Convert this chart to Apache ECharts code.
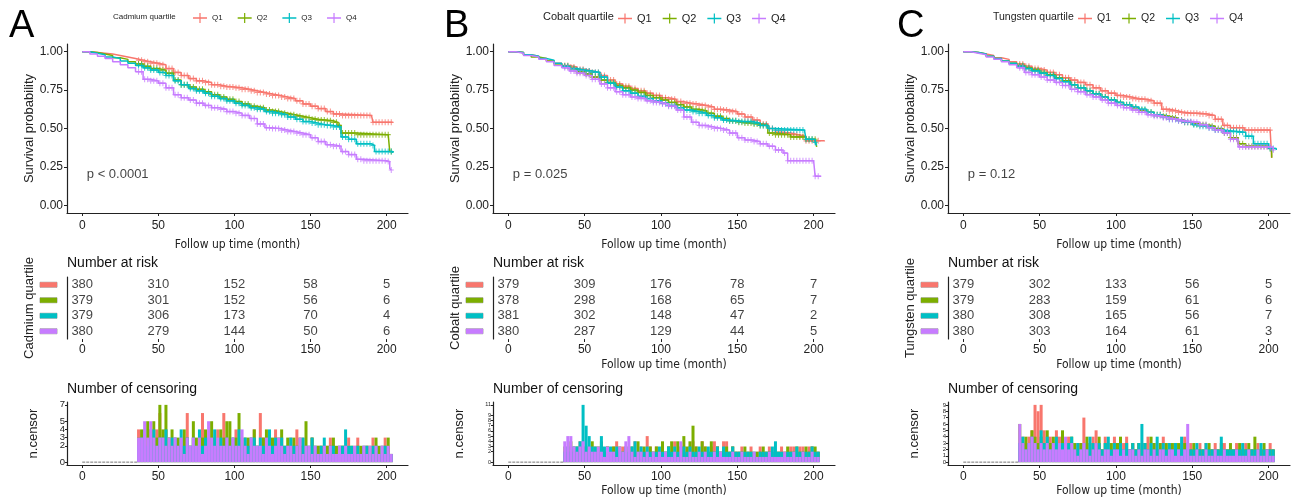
<!DOCTYPE html>
<html>
<head>
<meta charset="utf-8">
<script src="https://cdn.jsdelivr.net/npm/echarts@6/dist/echarts.min.js"></script>
<style>
html, body { margin: 0; padding: 0; background: #fff; }
#main { width: 1292px; height: 501px; }
</style>
</head>
<body>
<div id="main"></div>
<script>
// ---- data ----
const groups = ['Q1', 'Q2', 'Q3', 'Q4'];
const metals = ['Cadmium', 'Cobalt', 'Tungsten'];
const panelLetters = ['A', 'B', 'C'];
const pValues = ['p < 0.0001', 'p = 0.025', 'p = 0.12'];
const timeTicks = [0, 50, 100, 150, 200];
const probTicks = [0, 0.25, 0.5, 0.75, 1];
const riskTimes = [0, 50, 100, 150, 200];
const censorTicksA = [0, 1, 2, 3, 4, 5, 6, 7];
const censorTicksB = [0, 1, 2, 3, 4, 5, 6, 7, 8, 9, 10, 11];
const censorTicksC = [0, 1, 2, 3, 4, 5, 6, 7, 8, 9];
const censorStart = 37;   // first month with censoring, bins of 2 months
const censorStep = 2;

// survival curves [month, probability]
const cdSurvQ1 = [[0,1],[5,0.995],[10,0.99],[15,0.985],[20,0.975],[25,0.965],[30,0.955],[35,0.945],[40,0.935],[45,0.925],[50,0.915],[55,0.89],[60,0.865],[65,0.845],[70,0.825],[75,0.81],[80,0.8],[85,0.785],[90,0.775],[95,0.77],[100,0.765],[105,0.755],[110,0.745],[115,0.735],[120,0.725],[125,0.715],[130,0.705],[135,0.695],[140,0.68],[145,0.66],[150,0.645],[155,0.63],[160,0.61],[165,0.595],[170,0.585],[190,0.58],[191,0.54],[204,0.54]];
const cdSurvQ2 = [[0,1],[5,0.995],[10,0.985],[15,0.975],[20,0.96],[25,0.95],[30,0.935],[35,0.92],[40,0.905],[45,0.89],[50,0.88],[55,0.86],[60,0.815],[65,0.785],[70,0.77],[75,0.755],[80,0.74],[85,0.72],[90,0.705],[95,0.69],[100,0.675],[105,0.66],[110,0.645],[115,0.635],[120,0.62],[125,0.61],[130,0.6],[135,0.59],[140,0.58],[145,0.57],[150,0.56],[155,0.555],[160,0.55],[165,0.54],[168,0.52],[170,0.47],[180,0.46],[201,0.46],[202,0.35],[203,0.35]];
const cdSurvQ3 = [[0,1],[5,0.99],[10,0.98],[15,0.965],[20,0.955],[25,0.94],[30,0.925],[35,0.91],[40,0.895],[45,0.88],[50,0.865],[55,0.845],[60,0.81],[65,0.785],[70,0.76],[75,0.745],[80,0.73],[85,0.71],[90,0.695],[95,0.68],[100,0.665],[105,0.65],[110,0.635],[115,0.625],[120,0.61],[125,0.6],[130,0.59],[135,0.575],[140,0.56],[145,0.545],[150,0.535],[155,0.525],[160,0.52],[165,0.51],[170,0.445],[175,0.43],[180,0.4],[190,0.39],[192,0.35],[204,0.34]];
const cdSurvQ4 = [[0,1],[5,0.985],[10,0.97],[15,0.955],[20,0.935],[25,0.915],[30,0.895],[35,0.87],[40,0.82],[45,0.81],[50,0.795],[55,0.765],[60,0.72],[65,0.7],[70,0.685],[75,0.665],[80,0.65],[85,0.635],[90,0.625],[95,0.61],[100,0.6],[105,0.585],[110,0.565],[115,0.53],[120,0.505],[125,0.5],[130,0.49],[135,0.48],[140,0.47],[145,0.46],[150,0.44],[155,0.415],[160,0.395],[165,0.385],[170,0.35],[175,0.33],[180,0.3],[185,0.29],[200,0.285],[202,0.24],[203,0.23]];

const coSurvQ1 = [[0,1],[5,0.995],[10,0.98],[15,0.97],[20,0.955],[25,0.94],[30,0.925],[35,0.91],[40,0.9],[45,0.885],[50,0.875],[55,0.865],[60,0.845],[65,0.815],[70,0.79],[75,0.775],[80,0.76],[85,0.745],[90,0.73],[95,0.715],[100,0.7],[105,0.69],[110,0.675],[115,0.665],[120,0.66],[125,0.65],[130,0.64],[135,0.625],[140,0.62],[145,0.61],[150,0.595],[155,0.575],[160,0.555],[165,0.53],[170,0.5],[175,0.475],[180,0.47],[185,0.46],[190,0.45],[195,0.42],[207,0.415]];
const coSurvQ2 = [[0,1],[5,0.995],[10,0.98],[15,0.965],[20,0.955],[25,0.94],[30,0.92],[35,0.905],[40,0.89],[45,0.87],[50,0.855],[55,0.835],[60,0.815],[65,0.8],[70,0.78],[75,0.765],[80,0.75],[85,0.735],[90,0.715],[95,0.7],[100,0.685],[105,0.67],[110,0.655],[115,0.64],[120,0.625],[125,0.615],[130,0.6],[135,0.58],[140,0.565],[145,0.55],[150,0.54],[155,0.535],[160,0.53],[165,0.52],[170,0.47],[175,0.46],[185,0.445],[195,0.43],[201,0.43],[202,0.38]];
const coSurvQ3 = [[0,1],[5,0.995],[10,0.98],[15,0.97],[20,0.955],[25,0.945],[30,0.925],[35,0.905],[40,0.89],[45,0.88],[50,0.875],[55,0.865],[60,0.835],[65,0.795],[70,0.77],[75,0.745],[80,0.73],[85,0.71],[90,0.695],[95,0.68],[100,0.665],[105,0.65],[110,0.635],[115,0.62],[120,0.61],[125,0.6],[130,0.585],[135,0.57],[140,0.555],[145,0.55],[150,0.545],[155,0.545],[160,0.535],[165,0.52],[170,0.5],[175,0.49],[194,0.49],[195,0.43],[201,0.41],[202,0.39]];
const coSurvQ4 = [[0,1],[5,0.99],[10,0.975],[15,0.965],[20,0.95],[25,0.935],[30,0.91],[35,0.895],[40,0.875],[45,0.86],[50,0.845],[55,0.82],[60,0.79],[65,0.765],[70,0.74],[75,0.72],[80,0.705],[85,0.695],[90,0.68],[95,0.67],[100,0.66],[105,0.645],[110,0.62],[115,0.575],[120,0.54],[125,0.52],[130,0.51],[135,0.5],[140,0.49],[145,0.47],[150,0.44],[155,0.425],[160,0.415],[165,0.4],[170,0.385],[175,0.36],[180,0.34],[183,0.29],[200,0.29],[201,0.19],[205,0.19]];

const wSurvQ1 = [[0,1],[5,0.995],[10,0.985],[15,0.975],[20,0.96],[25,0.95],[30,0.935],[35,0.92],[40,0.905],[45,0.89],[50,0.88],[55,0.865],[60,0.85],[65,0.83],[70,0.815],[75,0.8],[80,0.785],[85,0.765],[90,0.745],[95,0.73],[100,0.715],[105,0.705],[110,0.695],[115,0.69],[120,0.68],[125,0.665],[130,0.625],[135,0.615],[140,0.605],[145,0.6],[150,0.6],[155,0.595],[160,0.585],[165,0.56],[170,0.52],[175,0.505],[184,0.49],[201,0.49],[202,0.31]];
const wSurvQ2 = [[0,1],[5,0.995],[10,0.985],[15,0.97],[20,0.955],[25,0.94],[30,0.925],[35,0.91],[40,0.895],[45,0.88],[50,0.865],[55,0.85],[60,0.83],[65,0.81],[70,0.785],[75,0.765],[80,0.745],[85,0.725],[90,0.705],[95,0.685],[100,0.67],[105,0.655],[110,0.635],[115,0.62],[120,0.605],[125,0.59],[130,0.58],[135,0.57],[140,0.555],[145,0.54],[150,0.53],[155,0.525],[160,0.515],[165,0.5],[170,0.47],[175,0.44],[180,0.4],[185,0.385],[200,0.37],[202,0.31]];
const wSurvQ3 = [[0,1],[5,0.995],[10,0.985],[15,0.97],[20,0.955],[25,0.94],[30,0.925],[35,0.905],[40,0.89],[45,0.875],[50,0.86],[55,0.845],[60,0.825],[65,0.805],[70,0.785],[75,0.765],[80,0.745],[85,0.725],[90,0.705],[95,0.685],[100,0.67],[105,0.655],[110,0.64],[115,0.625],[120,0.605],[125,0.59],[130,0.575],[135,0.56],[140,0.55],[145,0.54],[150,0.525],[155,0.515],[160,0.505],[165,0.49],[170,0.48],[180,0.475],[185,0.45],[190,0.4],[200,0.37],[205,0.36]];
const wSurvQ4 = [[0,1],[5,0.99],[10,0.98],[15,0.965],[20,0.95],[25,0.935],[30,0.915],[35,0.895],[40,0.865],[45,0.85],[50,0.835],[55,0.815],[60,0.8],[65,0.78],[70,0.755],[75,0.74],[80,0.72],[85,0.705],[90,0.685],[95,0.665],[100,0.65],[105,0.635],[110,0.62],[115,0.605],[120,0.59],[125,0.58],[130,0.57],[135,0.56],[140,0.55],[145,0.545],[150,0.54],[155,0.525],[160,0.505],[165,0.49],[170,0.47],[175,0.43],[180,0.38],[200,0.38],[203,0.36]];

// number at risk, rows Q1..Q4 at riskTimes
const cdRisk = [[380, 310, 152, 58, 5], [379, 301, 152, 56, 6], [379, 306, 173, 70, 4], [380, 279, 144, 50, 6]];
const coRisk = [[379, 309, 176, 78, 7], [378, 298, 168, 65, 7], [381, 302, 148, 47, 2], [380, 287, 129, 44, 5]];
const wRisk = [[379, 302, 133, 56, 5], [379, 283, 159, 61, 6], [380, 308, 165, 56, 7], [380, 303, 164, 61, 3]];

// number censored per 2-month bin, from month 37 to 203
const cdCensorQ1 = [4,2,3,2,4,3,4,6,2,4, 3,2,3,1,2,3,6,2,3,2, 3,6,2,3,2,3,4,2,6,3, 2,3,4,2,3,1,2,3,4,2, 6,3,2,3,2,4,2,3,1,2, 3,2,4,2,3,2,2,3,1,2, 2,1,2,3,2,1,2,2,1,3, 1,2,3,1,2,2,1,3,2,1, 2,3,2,1];
const cdCensorQ2 = [3,4,3,5,4,5,3,7,4,7, 3,4,2,3,2,4,3,2,5,3, 2,3,4,2,5,3,2,4,3,5, 5,2,3,6,2,3,3,2,4,2, 2,3,4,2,3,2,3,4,2,3, 2,3,2,3,2,5,1,3,2,2, 2,1,2,2,3,2,1,2,2,1, 2,1,2,2,1,2,2,1,3,2, 1,2,3,1];
const cdCensorQ3 = [2,3,4,2,3,4,2,3,3,4, 2,3,3,2,4,2,3,2,3,2, 4,2,3,3,2,4,2,3,2,3, 2,3,2,4,2,3,2,3,3,2, 3,2,2,4,2,3,2,3,2,2, 3,2,2,1,3,2,2,3,2,1, 2,3,1,2,2,1,2,2,4,2, 2,1,2,1,2,2,1,2,2,1, 2,2,1,1];
const cdCensorQ4 = [3,3,5,3,5,3,2,3,3,2, 3,2,3,2,3,1,3,2,3,2, 3,1,2,5,3,2,3,2,2,3, 2,3,2,2,4,2,1,3,2,2, 2,1,3,2,1,2,3,2,1,2, 2,1,2,3,1,2,2,1,2,1, 1,2,1,2,1,1,2,1,2,1, 1,2,1,1,2,1,2,1,2,1, 2,1,2,1];

const coCensorQ1 = [2,3,2,3,2,4,3,2,3,2, 3,2,3,2,3,2,3,4,2,3, 2,3,2,4,2,3,2,5,3,2, 3,2,3,2,3,2,4,2,3,3, 2,3,4,3,2,4,3,2,3,4, 3,2,4,4,2,3,2,2,3,2, 2,3,2,2,3,2,2,3,2,2, 2,3,2,2,3,3,2,3,3,2, 3,3,2,2];
const coCensorQ2 = [3,2,4,2,3,2,3,3,2,4, 2,3,4,2,3,2,3,2,3,2, 3,2,3,2,4,2,3,2,3,2, 3,2,4,2,3,4,2,4,3,5, 3,4,7,3,2,4,3,2,4,2, 3,2,2,3,2,3,2,2,2,3, 2,2,1,2,2,3,2,2,1,2, 2,1,2,3,2,2,3,2,2,3, 2,3,3,2];
const coCensorQ3 = [2,3,2,3,3,4,11,7,5,3, 3,2,5,3,2,3,2,3,2,2, 3,2,3,4,2,3,2,3,2,2, 2,3,2,2,3,2,3,2,2,3, 2,3,2,2,3,2,2,3,2,2, 3,2,3,2,2,3,2,2,2,2, 2,2,2,1,2,2,2,2,3,4, 2,2,1,2,2,2,3,2,2,2, 2,3,2,2];
const coCensorQ4 = [4,5,5,3,2,3,4,2,3,2, 2,3,2,1,3,2,2,1,3,2, 4,5,2,1,2,2,1,2,1,2, 1,2,1,2,1,1,2,1,4,1, 1,2,1,1,2,1,2,1,1,2, 1,2,1,1,1,2,1,1,2,1, 1,1,2,1,1,1,1,2,1,1, 1,1,2,1,1,2,1,1,2,1, 1,2,1,1];

const wCensorQ1 = [3,4,3,4,5,9,8,9,5,3, 4,3,5,4,3,2,4,3,2,3, 3,7,3,2,4,5,3,2,4,3, 2,4,3,2,3,4,2,3,2,3, 2,3,4,2,3,2,3,4,2,3, 2,3,2,3,4,2,3,2,2,3, 2,3,2,2,3,2,2,3,2,2, 2,3,2,2,3,2,2,2,3,2, 2,2,3,2];
const wCensorQ2 = [6,3,4,3,5,4,3,4,3,5, 3,4,2,3,5,3,2,4,3,2, 3,2,4,3,2,3,4,2,3,2, 3,2,3,4,2,3,2,3,2,3, 2,3,2,4,3,2,3,2,3,2, 3,2,3,2,3,2,2,3,2,2, 2,2,3,2,2,2,3,2,2,3, 2,2,3,2,2,3,2,4,2,2, 3,2,2,2];
const wCensorQ3 = [3,4,2,3,4,3,2,5,3,4, 2,3,4,2,3,2,3,4,2,3, 2,3,2,4,3,2,3,2,3,4, 2,3,2,3,2,3,2,3,2,3, 6,3,2,3,2,4,2,3,2,3, 2,3,2,4,2,3,2,2,3,2, 2,3,2,2,2,2,4,2,2,2, 2,2,2,3,2,2,2,2,2,3, 2,2,2,2];
const wCensorQ4 = [6,3,2,3,4,3,2,3,2,3, 2,3,2,3,2,4,2,3,2,1, 2,3,2,1,2,3,2,1,2,2, 1,2,2,1,2,1,2,2,1,2, 1,2,2,1,2,1,2,2,1,2, 2,1,2,1,2,6,1,1,2,1, 1,2,1,1,2,1,1,2,1,1, 1,2,1,1,1,2,1,1,2,1, 1,2,1,1];

// ---- styling / layout ----
const colors = ['#F8766D', '#7CAE00', '#00BFC4', '#C77CFF'];
const font = "'Liberation Sans', Arial, sans-serif";
const narrowFont = "'Liberation Sans Narrow', 'DejaVu Sans Condensed', 'Liberation Sans', sans-serif";
const ink = '#222';
const plusPath = 'path://M4,0H6V4H10V6H6V10H4V6H0V4H4Z';
const legendIcon = 'path://M0,4.3H6.4V0H7.6V4.3H14V5.7H7.6V10H6.4V5.7H0Z';

const panels = [
  { left: 67, width: 341, surv: [cdSurvQ1, cdSurvQ2, cdSurvQ3, cdSurvQ4], risk: cdRisk,
    censor: [cdCensorQ1, cdCensorQ2, cdCensorQ3, cdCensorQ4], censorTicks: censorTicksA, censorFont: 9.5,
    letterLeft: 9, legendTitleLeft: 113, legendLeft: 193, legendFont: 8, legendGap: 15, lowerNames: false },
  { left: 493, width: 342, surv: [coSurvQ1, coSurvQ2, coSurvQ3, coSurvQ4], risk: coRisk,
    censor: [coCensorQ1, coCensorQ2, coCensorQ3, coCensorQ4], censorTicks: censorTicksB, censorFont: 5.5,
    letterLeft: 444, legendTitleLeft: 543, legendLeft: 618, legendFont: 11, legendGap: 11, lowerNames: true },
  { left: 948, width: 342, surv: [wSurvQ1, wSurvQ2, wSurvQ3, wSurvQ4], risk: wRisk,
    censor: [wCensorQ1, wCensorQ2, wCensorQ3, wCensorQ4], censorTicks: censorTicksC, censorFont: 6,
    letterLeft: 897, legendTitleLeft: 993, legendLeft: 1078, legendFont: 10.5, legendGap: 11, lowerNames: true }
];

const survAt = (curve, t) => {
  let s = curve[0][1];
  for (const [tt, v] of curve) {
    if (tt <= t) s = v; else break;
  }
  return s;
};
const censorPoints = counts => counts.map((n, i) => [censorStart + i * censorStep, n]);

const timeAxis = (gridIndex, withName, nameGap, margin) => ({
  type: 'value', gridIndex, min: -10, max: 214,
  name: withName ? 'Follow up time (month)' : '',
  nameLocation: 'middle', nameGap,
  nameTextStyle: { fontFamily: narrowFont, fontSize: 12, color: ink },
  axisLine: { onZero: false, lineStyle: { color: ink, width: 1.2 } },
  axisTick: { show: true, length: 3, customValues: timeTicks, lineStyle: { color: ink } },
  axisLabel: { customValues: timeTicks, margin, fontSize: 12, color: ink },
  splitLine: { show: false }
});

const grids = [], xAxes = [], yAxes = [], series = [], titles = [], legends = [];

panels.forEach((p, pi) => {
  const g0 = pi * 3;
  grids.push(
    { left: p.left, width: p.width, top: 44, height: 169, outerBoundsMode: 'none' },
    { left: p.left, width: p.width, top: 277, height: 62, outerBoundsMode: 'none' },
    { left: p.left, width: p.width, top: 402, height: 63, outerBoundsMode: 'none' }
  );

  xAxes.push(timeAxis(g0, true, 26, 7), timeAxis(g0 + 1, p.lowerNames, 20, 5), timeAxis(g0 + 2, p.lowerNames, 20, 6));

  const maxC = p.censorTicks[p.censorTicks.length - 1];
  const rich = {};
  groups.forEach((g, gi) => {
    rich[g] = { backgroundColor: colors[gi], borderColor: 'rgba(0,0,0,0.35)', borderWidth: 0.5, width: 17, height: 5, lineHeight: 5, fontSize: 5 };
  });
  yAxes.push(
    {
      type: 'value', gridIndex: g0, min: -0.05, max: 1.05,
      name: 'Survival probability', nameLocation: 'middle', nameGap: 28,
      nameTextStyle: { fontSize: 13, color: ink },
      axisLine: { onZero: false, lineStyle: { color: ink, width: 1.2 } },
      axisTick: { show: true, length: 3, customValues: probTicks, lineStyle: { color: ink } },
      axisLabel: { customValues: probTicks, margin: 4, fontSize: 12, color: ink, formatter: v => v.toFixed(2) },
      splitLine: { show: false }
    },
    {
      type: 'category', gridIndex: g0 + 1, data: groups, inverse: true,
      name: metals[pi] + ' quartile', nameLocation: 'middle', nameGap: 29,
      nameTextStyle: { fontSize: 13, color: ink },
      axisLine: { onZero: false, lineStyle: { color: ink, width: 1.2 } },
      axisTick: { show: false },
      axisLabel: { interval: 0, margin: 10, formatter: v => '{' + v + '| }', rich }
    },
    {
      type: 'value', gridIndex: g0 + 2, min: -0.05 * maxC, max: 1.05 * maxC,
      name: 'n.censor', nameLocation: 'middle', nameGap: 27,
      nameTextStyle: { fontSize: 13, color: ink },
      axisLine: { onZero: false, lineStyle: { color: ink, width: 1.2 } },
      axisTick: { show: true, length: 2, customValues: p.censorTicks, lineStyle: { color: ink } },
      axisLabel: { customValues: p.censorTicks, hideOverlap: false, showMinLabel: true, showMaxLabel: true,
                   margin: 2, fontSize: p.censorFont, color: ink },
      splitLine: { show: false }
    }
  );

  // survival curves + censor marks
  groups.forEach((g, gi) => {
    const curve = p.surv[gi];
    const lastT = curve[curve.length - 1][0];
    series.push({
      type: 'line', name: g, xAxisIndex: g0, yAxisIndex: g0, step: 'end',
      data: curve, showSymbol: false, z: 2 + gi,
      lineStyle: { width: 1.5, color: colors[gi] }, itemStyle: { color: colors[gi] }
    });
    series.push({
      type: 'scatter', name: g, xAxisIndex: g0, yAxisIndex: g0, z: 2 + gi,
      symbol: plusPath, symbolSize: [5, 6],
      data: censorPoints(p.censor[gi]).filter(d => d[1] > 0 && d[0] <= lastT).map(d => [d[0], survAt(curve, d[0])]),
      itemStyle: { color: colors[gi] }
    });
  });

  series.push({
    type: 'scatter', name: 'pval', xAxisIndex: g0, yAxisIndex: g0,
    data: [[3, 0.2]], symbolSize: 0,
    label: { show: true, position: 'right', distance: 0, formatter: pValues[pi], fontSize: 13, color: '#111' }
  });

  // number at risk table
  const riskData = [];
  p.risk.forEach((row, gi) => row.forEach((n, k) => riskData.push([riskTimes[k], groups[gi], n])));
  series.push({
    type: 'scatter', name: 'risk', xAxisIndex: g0 + 1, yAxisIndex: g0 + 1,
    data: riskData, symbolSize: 0,
    label: { show: true, position: 'inside', formatter: d => d.value[2], fontSize: 13, color: '#111' }
  });

  // censoring counts
  series.push({
    type: 'line', name: 'none', xAxisIndex: g0 + 2, yAxisIndex: g0 + 2,
    data: [[0, 0], [censorStart - 1, 0]], showSymbol: false,
    lineStyle: { color: '#777', width: 1, type: [3, 1] }
  });
  groups.forEach((g, gi) => {
    series.push({
      type: 'bar', name: g, xAxisIndex: g0 + 2, yAxisIndex: g0 + 2,
      data: censorPoints(p.censor[gi]), barWidth: 3, barGap: '-100%',
      itemStyle: { color: colors[gi] }
    });
  });

  // texts
  titles.push(
    { text: panelLetters[pi], left: p.letterLeft, top: 8, padding: 0,
      textStyle: { fontSize: 38, fontWeight: 'normal', color: '#000', fontFamily: font } },
    { text: metals[pi] + ' quartile', left: p.legendTitleLeft, top: 18 - p.legendFont / 2 - 1, padding: 0,
      textStyle: { fontSize: p.legendFont, fontWeight: 'normal', color: ink, fontFamily: font } },
    { text: 'Number at risk', left: p.left, top: 256, padding: 0,
      textStyle: { fontSize: 14, fontWeight: 'normal', color: '#111', fontFamily: font } },
    { text: 'Number of censoring', left: p.left, top: 382, padding: 0,
      textStyle: { fontSize: 14, fontWeight: 'normal', color: '#111', fontFamily: font } }
  );
  legends.push({
    left: p.legendLeft, top: 13, padding: 0, itemWidth: 14, itemHeight: 10, itemGap: p.legendGap,
    selectedMode: false,
    data: groups.map(name => ({ name, icon: legendIcon })),
    textStyle: { fontSize: p.legendFont, color: ink, fontFamily: font }
  });
});

const chart = echarts.init(document.getElementById('main'));
chart.setOption({
  animation: false,
  textStyle: { fontFamily: font },
  title: titles,
  legend: legends,
  grid: grids,
  xAxis: xAxes,
  yAxis: yAxes,
  series
});
</script>
</body>
</html>
